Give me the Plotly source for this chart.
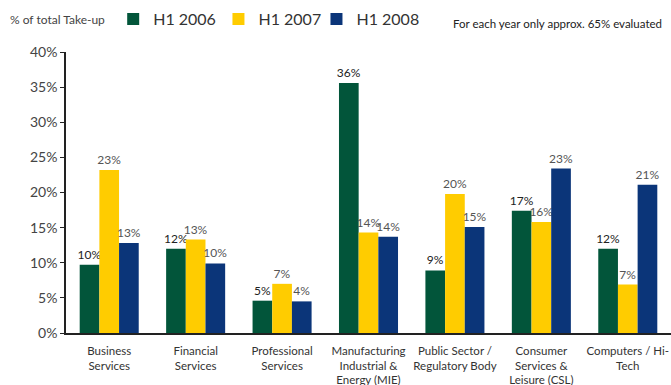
import plotly.graph_objects as go

categories = ["Business<br>Services", "Financial<br>Services", "Professional<br>Services",
              "Manufacturing<br>Industrial &<br>Energy (MIE)", "Public Sector /<br>Regulatory Body",
              "Consumer<br>Services &<br>Leisure (CSL)", "Computers / Hi-<br>Tech"]
h1_2006 = [9.7, 12.0, 4.6, 35.6, 8.9, 17.4, 12.0]
h1_2007 = [23.2, 13.3, 7.0, 14.3, 19.8, 15.8, 6.9]
h1_2008 = [12.8, 9.9, 4.5, 13.7, 15.1, 23.4, 21.1]
series_names = ["H1 2006", "H1 2007", "H1 2008"]
colors = ["#02553A", "#FFCC00", "#0B3579"]
label_colors = ["#222222", "#555555", "#555555"]
y_ticks = [0, 5, 10, 15, 20, 25, 30, 35, 40]

FONT = "Lato"
legend_ids = ["legend", "legend2", "legend3"]
legend_x = [0.078, 0.252, 0.414]

fig = go.Figure()
for name, vals, col, lc, lid in zip(series_names, [h1_2006, h1_2007, h1_2008], colors, label_colors, legend_ids):
    fig.add_trace(go.Bar(
        x=categories, y=vals, name=name, marker=dict(color=col, line=dict(width=0)),
        text=[f"{round(v)}%" for v in vals], textposition="outside",
        textfont=dict(family=FONT, size=12, color=lc), constraintext="none",
        cliponaxis=False, legend=lid,
    ))

legend_style = dict(orientation="h", y=1.117, xanchor="left", yanchor="middle",
                    font=dict(family=FONT, size=16, color="#333333"),
                    itemwidth=30, bgcolor="rgba(0,0,0,0)")

fig.update_layout(
    width=671, height=385,
    margin=dict(l=66, r=0, t=52, b=52, autoexpand=False),
    barmode="group", bargap=0.317, bargroupgap=0,
    plot_bgcolor="white", paper_bgcolor="white",
    font=dict(family=FONT, color="#333333"),
    showlegend=True,
    legend=dict(x=legend_x[0], **legend_style),
    legend2=dict(x=legend_x[1], **legend_style),
    legend3=dict(x=legend_x[2], **legend_style),
    xaxis=dict(showline=True, linecolor="#222222", linewidth=1.5, ticks="",
               ticklabelstandoff=6,
               tickfont=dict(family=FONT, size=11.5, color="#333333"), showgrid=False),
    yaxis=dict(range=[0, 40], tickvals=y_ticks, ticktext=[f"{v}%" for v in y_ticks],
               showline=True, linecolor="#222222", linewidth=1.5, ticks="outside",
               ticklen=4, tickcolor="#222222", showgrid=False, zeroline=False,
               tickfont=dict(family=FONT, size=14, color="#444444")),
    annotations=[
        dict(text="% of total Take-up", xref="paper", yref="paper", x=-0.096, y=1.117,
             xanchor="left", yanchor="middle", showarrow=False,
             font=dict(family=FONT, size=12, color="#444444")),
        dict(text="For each year only approx. 65% evaluated", xref="paper", yref="paper",
             x=0.988, y=1.103, xanchor="right", yanchor="middle", showarrow=False,
             font=dict(family=FONT, size=11.5, color="#222222")),
    ],
)
fig.write_html("out.html")
